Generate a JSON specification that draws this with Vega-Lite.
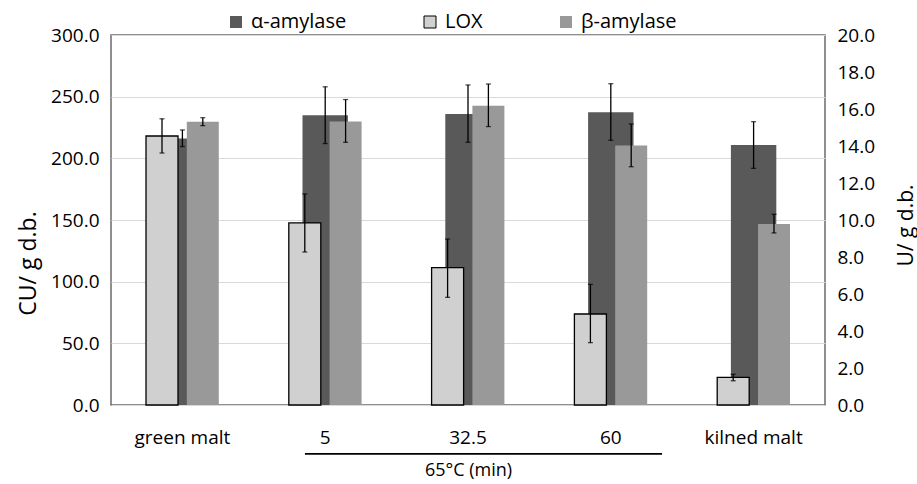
{
  "$schema": "https://vega.github.io/schema/vega-lite/v6.json",
  "width": 714,
  "height": 370,
  "autosize": {"type": "none"},
  "padding": {"left": 111, "top": 35, "right": 92, "bottom": 79},
  "background": "white",
  "config": {
    "font": "Open Sans",
    "view": {"stroke": "#6b6b6b", "strokeWidth": 1.5},
    "axis": {"labelColor": "#000000", "titleColor": "#000000", "titleFontWeight": "normal", "domain": false, "ticks": false, "tickSize": 0, "labelOverlap": false},
    "legend": {"labelColor": "#000000"}
  },
  "datasets": {
    "bars": [
      {"group": "green malt", "series": "α-amylase", "value": 216, "lo": 209.5, "hi": 223},
      {"group": "5", "series": "α-amylase", "value": 235, "lo": 212, "hi": 258},
      {"group": "32.5", "series": "α-amylase", "value": 236, "lo": 213, "hi": 259.5},
      {"group": "60", "series": "α-amylase", "value": 237.3, "lo": 214.6, "hi": 260.5},
      {"group": "kilned malt", "series": "α-amylase", "value": 210.8, "lo": 191.9, "hi": 229.7},
      {"group": "green malt", "series": "LOX", "value": 14.54, "lo": 13.62, "hi": 15.47},
      {"group": "5", "series": "LOX", "value": 9.84, "lo": 8.27, "hi": 11.41},
      {"group": "32.5", "series": "LOX", "value": 7.43, "lo": 5.82, "hi": 8.97},
      {"group": "60", "series": "LOX", "value": 4.92, "lo": 3.37, "hi": 6.52},
      {"group": "kilned malt", "series": "LOX", "value": 1.49, "lo": 1.31, "hi": 1.66},
      {"group": "green malt", "series": "β-amylase", "value": 15.31, "lo": 15.1, "hi": 15.53},
      {"group": "5", "series": "β-amylase", "value": 15.33, "lo": 14.2, "hi": 16.51},
      {"group": "32.5", "series": "β-amylase", "value": 16.18, "lo": 15.05, "hi": 17.35},
      {"group": "60", "series": "β-amylase", "value": 14.03, "lo": 12.88, "hi": 15.19},
      {"group": "kilned malt", "series": "β-amylase", "value": 9.79, "lo": 9.3, "hi": 10.31}
    ]
  },
  "data": {"name": "bars"},
  "layer": [
    {
      "transform": [{"filter": "datum.series === 'α-amylase'"}],
      "layer": [
        {
          "mark": {"type": "bar", "width": {"band": 0.318}},
          "encoding": {
            "x": {"field": "group", "type": "nominal", "sort": ["green malt", "5", "32.5", "60", "kilned malt"], "title": "65°C (min)", "scale": {"paddingInner": 0, "paddingOuter": 0}, "axis": {"labelAngle": 0, "labelFontSize": 19, "labelPadding": 23, "titleFontSize": 18, "titleY": 56, "titleBaseline": "top", "grid": false}},
            "y": {"field": "value", "type": "quantitative", "title": "CU/ g d.b.", "scale": {"domain": [0, 300], "nice": false, "zero": true}, "axis": {"orient": "left", "values": [0, 50, 100, 150, 200, 250, 300], "tickCount": 20, "format": ".1f", "labelFontSize": 19, "labelPadding": 12, "titleFontSize": 23, "titleAngle": 270, "titleX": -94, "titleY": 228, "titleBaseline": "top", "titleAlign": "center", "grid": true, "gridColor": "#d9d9d9", "gridWidth": 1}},
            "color": {"field": "series", "type": "nominal", "title": null, "scale": {"domain": ["α-amylase", "LOX", "β-amylase"], "range": ["#595959", "#d0d0d0", "#999999"]}, "legend": {"orient": "none", "legendX": 115, "legendY": -23, "direction": "horizontal", "columnPadding": 73, "symbolType": "square", "symbolSize": 144, "symbolStrokeWidth": 1, "labelFontSize": 20, "labelOffset": 5}},
            "stroke": {"field": "series", "type": "nominal", "title": null, "scale": {"domain": ["α-amylase", "LOX", "β-amylase"], "range": ["transparent", "#000000", "transparent"]}}
          }
        },
        {
          "mark": {"type": "rule", "color": "#000000", "strokeWidth": 1.3},
          "encoding": {
            "x": {"field": "group", "type": "nominal", "sort": ["green malt", "5", "32.5", "60", "kilned malt"], "title": "65°C (min)"},
            "y": {"field": "lo", "type": "quantitative", "title": "CU/ g d.b.", "scale": {"domain": [0, 300], "nice": false}},
            "y2": {"field": "hi"}
          }
        },
        {
          "mark": {"type": "tick", "color": "#000000", "size": 5, "thickness": 1.3, "orient": "horizontal"},
          "encoding": {
            "x": {"field": "group", "type": "nominal", "sort": ["green malt", "5", "32.5", "60", "kilned malt"], "title": "65°C (min)"},
            "y": {"field": "lo", "type": "quantitative", "title": "CU/ g d.b.", "scale": {"domain": [0, 300], "nice": false}}
          }
        },
        {
          "mark": {"type": "tick", "color": "#000000", "size": 5, "thickness": 1.3, "orient": "horizontal"},
          "encoding": {
            "x": {"field": "group", "type": "nominal", "sort": ["green malt", "5", "32.5", "60", "kilned malt"], "title": "65°C (min)"},
            "y": {"field": "hi", "type": "quantitative", "title": "CU/ g d.b.", "scale": {"domain": [0, 300], "nice": false}}
          }
        },
        {
          "data": {"values": [{}]},
          "mark": {"type": "rule", "color": "#000000", "strokeWidth": 1.8},
          "encoding": {
            "x": {"datum": "5", "bandPosition": 0.358, "type": "nominal", "title": "65°C (min)"},
            "x2": {"datum": "60", "bandPosition": 0.859},
            "y": {"datum": -39.7, "type": "quantitative", "title": "CU/ g d.b.", "scale": {"domain": [0, 300], "nice": false}}
          }
        }
      ]
    },
    {
      "transform": [{"filter": "datum.series !== 'α-amylase'"}],
      "layer": [
        {
          "mark": {"type": "bar", "strokeWidth": 1.3},
          "encoding": {
            "x": {"field": "group", "type": "nominal", "sort": ["green malt", "5", "32.5", "60", "kilned malt"], "title": "65°C (min)"},
            "xOffset": {"field": "series", "type": "nominal", "sort": ["LOX", "β-amylase"], "scale": {"paddingInner": 0.2157, "paddingOuter": 0.858}},
            "y": {"field": "value", "type": "quantitative", "title": "U/ g d.b.", "scale": {"domain": [0, 20], "nice": false, "zero": true}, "axis": {"orient": "right", "values": [0, 2, 4, 6, 8, 10, 12, 14, 16, 18, 20], "tickCount": 20, "format": ".1f", "labelFontSize": 19, "labelPadding": 12, "labelOverlap": false, "titleFontSize": 21, "titleAngle": 270, "titleX": 70, "titleY": 190, "titleBaseline": "top", "titleAlign": "center", "grid": false}},
            "color": {"field": "series", "type": "nominal", "title": null, "scale": {"domain": ["α-amylase", "LOX", "β-amylase"], "range": ["#595959", "#d0d0d0", "#999999"]}},
            "stroke": {"field": "series", "type": "nominal", "title": null, "scale": {"domain": ["α-amylase", "LOX", "β-amylase"], "range": ["transparent", "#000000", "transparent"]}}
          }
        },
        {
          "mark": {"type": "rule", "color": "#000000", "strokeWidth": 1.3},
          "encoding": {
            "x": {"field": "group", "type": "nominal", "sort": ["green malt", "5", "32.5", "60", "kilned malt"], "title": "65°C (min)"},
            "xOffset": {"field": "series", "type": "nominal", "sort": ["LOX", "β-amylase"], "scale": {"paddingInner": 0.2157, "paddingOuter": 0.858}},
            "y": {"field": "lo", "type": "quantitative", "title": "U/ g d.b.", "scale": {"domain": [0, 20], "nice": false}},
            "y2": {"field": "hi"}
          }
        },
        {
          "mark": {"type": "tick", "color": "#000000", "size": 5, "thickness": 1.3, "orient": "horizontal"},
          "encoding": {
            "x": {"field": "group", "type": "nominal", "sort": ["green malt", "5", "32.5", "60", "kilned malt"], "title": "65°C (min)"},
            "xOffset": {"field": "series", "type": "nominal", "sort": ["LOX", "β-amylase"], "scale": {"paddingInner": 0.2157, "paddingOuter": 0.858}},
            "y": {"field": "lo", "type": "quantitative", "title": "U/ g d.b.", "scale": {"domain": [0, 20], "nice": false}}
          }
        },
        {
          "mark": {"type": "tick", "color": "#000000", "size": 5, "thickness": 1.3, "orient": "horizontal"},
          "encoding": {
            "x": {"field": "group", "type": "nominal", "sort": ["green malt", "5", "32.5", "60", "kilned malt"], "title": "65°C (min)"},
            "xOffset": {"field": "series", "type": "nominal", "sort": ["LOX", "β-amylase"], "scale": {"paddingInner": 0.2157, "paddingOuter": 0.858}},
            "y": {"field": "hi", "type": "quantitative", "title": "U/ g d.b.", "scale": {"domain": [0, 20], "nice": false}}
          }
        }
      ]
    }
  ],
  "resolve": {"scale": {"y": "independent"}}
}
